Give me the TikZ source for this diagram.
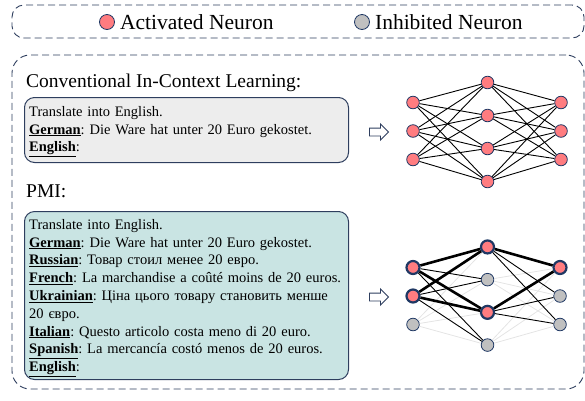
\documentclass[tikz,border=0pt]{standalone}
\usepackage{fontspec}
\setmainfont{Liberation Serif}
\frenchspacing
\usetikzlibrary{positioning, shapes, arrows, calc}
\definecolor{pmiActive}{HTML}{FF7C80}
\definecolor{pmiInhib}{HTML}{C0C0C0}
\definecolor{pmiNavy}{HTML}{1F3864}
\definecolor{pmiFrame}{HTML}{2E3E5E}
\definecolor{pmiPlain}{HTML}{EDEDED}
\definecolor{pmiTeal}{HTML}{C9E4E3}
\definecolor{pmiFaint}{HTML}{E4E4E4}
\newcommand{\langtag}[1]{\underline{\textbf{#1}}}
\tikzset{
    pmiFrameBase/.style={
        rectangle,
        draw=pmiFrame,
        dash pattern=on 7pt off 4pt,
        line width=0.9pt,
        rounded corners=12pt,
        minimum width=572pt,
        inner sep=0pt
    },
    pmiPrompt/.style={
        rectangle,
        draw=pmiFrame,
        line width=1pt,
        rounded corners=10pt,
        minimum width=324pt,
        anchor=north west,
        inner sep=0pt
    },
    pmiText/.style={
        anchor=north west,
        inner sep=0pt,
        text width=330pt,
        align=left,
        font=\fontsize{14.5}{17.8}\selectfont
    },
    pmiTitle/.style={anchor=base west, inner sep=0pt, font=\fontsize{19.5}{23}\selectfont},
    pmiLegend/.style={inner sep=0pt, font=\fontsize{21.5}{25}\selectfont},
    % Neurons
    neuronBase/.style={circle, draw=pmiNavy, line width=0.8pt, minimum size=12.6pt, inner sep=0pt},
    neuronOn/.style={neuronBase, fill=pmiActive},
    neuronOff/.style={neuronBase, fill=pmiInhib},
    neuronHot/.style={neuronOn, line width=2.2pt, minimum size=13pt},
    % Connections
    wire/.style={draw=black, line width=0.9pt},
    wireStrong/.style={draw=black, line width=2.6pt},
    wireFaint/.style={draw=pmiFaint, line width=0.8pt},
    flowArrow/.style={
        single arrow,
        draw=pmiFrame,
        fill=white,
        line width=0.9pt,
        minimum height=19pt,
        minimum width=15pt,
        single arrow head extend=4pt,
        inner sep=3.5pt
    }
}

\begin{document}
\begin{tikzpicture}[x=1pt, y=-1pt]
\useasboundingbox (0,0) rectangle (585,400);

% legend
\node[pmiFrameBase, minimum height=33pt] (legend) at (298,21.5) {};
\node[neuronOn, minimum size=15pt] (legAct) at (107,22) {};
\node[pmiLegend, right=5pt of legAct] (legActText) {Activated Neuron};
\node[neuronOff, minimum size=15pt] (legInh) at (362,22) {};
\node[pmiLegend, right=5pt of legInh] (legInhText) {Inhibited Neuron};

% outer frame
\node[pmiFrameBase, minimum height=334pt, rounded corners=18pt] (frame) at (298,222) {};

% conventional ICL
\node[pmiTitle] (iclTitle) at (26,87) {Conventional In-Context Learning:};
\node[pmiPrompt, fill=pmiPlain, minimum height=65pt] (iclBox) at (24,97) {};
\node[pmiText] (iclText) at (29,106) {Translate into English.\\
\langtag{German}: Die Ware hat unter 20 Euro gekostet.\\
\langtag{English}:};

% PMI
\node[pmiTitle] (pmiTitle) at (26,197) {PMI:};
\node[pmiPrompt, fill=pmiTeal, minimum height=168pt] (pmiBox) at (24,211) {};
\node[pmiText] (pmiText) at (29,219) {Translate into English.\\
\langtag{German}: Die Ware hat unter 20 Euro gekostet.\\
\langtag{Russian}: Товар стоил менее 20 евро.\\
\langtag{French}: La marchandise a coûté moins de 20 euros.\\
\langtag{Ukrainian}: Ціна цього товару становить менше\\
20 євро.\\
\langtag{Italian}: Questo articolo costa meno di 20 euro.\\
\langtag{Spanish}: La mercancía costó menos de 20 euros.\\
\langtag{English}:};

\node[flowArrow] (iclArrow) at (377,132) {};
\node[flowArrow] (pmiArrow) at (377,297) {};

% dense network
\foreach \i in {1,2,3}
    \node[neuronOn] (a\i) at (413,{131+(\i-2)*28.5}) {};
\foreach \j in {1,...,4}
    \node[neuronOn] (b\j) at (487.5,{132-(2.5-\j)*33}) {};
\foreach \k in {1,2,3}
    \node[neuronOn] (c\k) at (561,{131+(\k-2)*28.5}) {};
\foreach \j in {1,...,4} {
    \foreach \i in {1,2,3} \draw[wire] (a\i) -- (b\j);
    \foreach \k in {1,2,3} \draw[wire] (b\j) -- (c\k);
}

% pruned network
\foreach \i/\st in {1/neuronHot,2/neuronHot,3/neuronOff}
    \node[\st] (p\i) at (413,{296+(\i-2)*28.5}) {};
\foreach \j/\st in {1/neuronHot,2/neuronOff,3/neuronHot,4/neuronOff}
    \node[\st] (q\j) at (487.5,{296-(2.5-\j)*32.7}) {};
\foreach \k/\st in {1/neuronHot,2/neuronOff,3/neuronOff}
    \node[\st] (r\k) at (560,{296+(\k-2)*28.5}) {};

\foreach \j in {1,...,4} \draw[wireFaint] (p3) -- (q\j);
\foreach \k in {1,2,3} {
    \draw[wireFaint] (q2) -- (r\k);
    \draw[wireFaint] (q4) -- (r\k);
}
\foreach \i in {1,2} \foreach \j in {2,4} \draw[wire] (p\i) -- (q\j);
\foreach \j in {1,3} \foreach \k in {2,3} \draw[wire] (q\j) -- (r\k);
\foreach \i in {1,2} \foreach \j in {1,3} \draw[wireStrong] (p\i) -- (q\j);
\foreach \j in {1,3} \draw[wireStrong] (q\j) -- (r1);
\end{tikzpicture}
\end{document}
